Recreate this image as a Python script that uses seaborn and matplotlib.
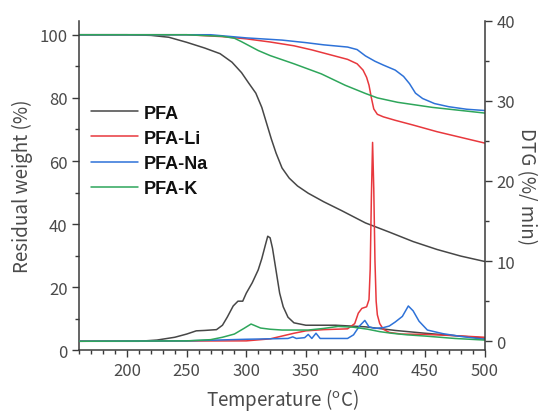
import matplotlib
matplotlib.use("Agg")
import matplotlib.pyplot as plt
from matplotlib.ticker import MultipleLocator
import numpy as np
import pandas as pd
import seaborn as sns

sns.set_style("ticks")
plt.rcParams["font.family"] = ["Noto Sans CJK JP", "DejaVu Sans"]
plt.rcParams["mathtext.fontset"] = "custom"
plt.rcParams["mathtext.rm"] = "Noto Sans CJK JP"

# ---- TG curves (left axis, residual weight %) ----
pfa_tg_t = [160, 200, 220, 235, 250, 265, 278, 288, 296, 302, 308, 313, 317, 321, 325,
            330, 336, 343, 352, 365, 380, 400, 420, 440, 460, 480, 500]
pfa_tg = [100, 100, 99.8, 99.2, 97.6, 95.8, 94.0, 91.3, 88.0, 84.7, 81.5, 77.0, 72.0, 67.0,
          62.5, 57.8, 54.6, 52.1, 49.8, 47.1, 44.3, 40.4, 37.5, 34.5, 32.0, 29.9, 28.2]

li_tg_t = [160, 250, 280, 300, 320, 340, 355, 370, 385, 393, 398, 401, 403, 405, 407,
           410, 415, 425, 440, 460, 480, 500]
li_tg = [100, 100, 99.4, 98.7, 97.7, 96.5, 95.2, 93.7, 92.2, 90.8, 88.8, 86.5, 84.0, 80.0,
         76.5, 74.8, 74.0, 72.9, 71.4, 69.3, 67.5, 65.7]

na_tg_t = [160, 270, 300, 330, 350, 365, 385, 393, 400, 408, 415, 425, 432, 437, 442,
           448, 458, 470, 485, 500]
na_tg = [100, 100, 99.0, 98.3, 97.5, 96.8, 96.1, 95.3, 93.3, 91.6, 90.4, 88.8, 86.8, 84.5,
         81.5, 79.8, 78.2, 77.2, 76.4, 76.0]

k_tg_t = [160, 250, 280, 290, 296, 302, 310, 320, 340, 363, 383, 400, 410, 427, 456, 500]
k_tg = [100, 100, 99.5, 98.9, 97.8, 96.6, 95.0, 93.4, 90.8, 87.6, 84.0, 81.4, 80.0, 78.6,
        77.0, 75.2]

# ---- DTG curves (right axis, %/min) ----
pfa_dtg_t = [160, 210, 225, 240, 250, 258, 265, 275, 280, 284, 289, 293, 297, 300, 305,
             310, 313, 316, 318, 320, 322, 325, 328, 331, 335, 340, 350, 375, 400, 425,
             450, 475, 500]
pfa_dtg = [0, 0, 0.15, 0.5, 0.9, 1.3, 1.35, 1.45, 2.0, 3.0, 4.4, 5.0, 5.0, 6.0, 7.3, 8.9,
           10.3, 12.0, 13.1, 12.9, 11.6, 8.8, 6.0, 4.3, 3.0, 2.3, 2.0, 2.0, 1.8, 1.35, 1.0,
           0.7, 0.4]

li_dtg_t = [160, 300, 320, 330, 340, 350, 365, 385, 391, 394, 397, 401, 403, 404, 405, 406,
            407, 408, 409, 410, 412, 415, 420, 430, 450, 475, 500]
li_dtg = [0, 0.05, 0.3, 0.65, 1.0, 1.3, 1.45, 1.55, 2.2, 3.5, 4.1, 4.3, 5.2, 9.0, 18.0,
          24.8, 19.0, 10.0, 5.0, 3.3, 2.2, 1.5, 1.1, 0.9, 0.85, 0.7, 0.5]

na_dtg_t = [160, 250, 300, 335, 339, 342, 349, 352, 355, 358.5, 362, 385, 390, 395, 399.5,
            403, 408, 415, 420, 425, 431, 436, 440, 445, 452, 465, 480, 500]
na_dtg = [0, 0.05, 0.25, 0.35, 0.55, 0.35, 0.45, 0.85, 0.35, 1.0, 0.35, 0.35, 0.8, 1.9,
          2.6, 1.8, 1.6, 1.7, 1.9, 2.4, 3.1, 4.4, 3.8, 2.5, 1.4, 0.95, 0.6, 0.25]

k_dtg_t = [160, 250, 270, 280, 290, 298, 304, 312, 320, 330, 352, 365, 377, 390, 402, 412,
           422, 435, 450, 475, 500]
k_dtg = [0, 0.05, 0.2, 0.5, 0.9, 1.6, 2.15, 1.65, 1.5, 1.4, 1.4, 1.6, 1.85, 1.75, 1.5, 1.2,
         1.0, 0.8, 0.65, 0.35, 0.15]

names = ["PFA", "PFA-Li", "PFA-Na", "PFA-K"]
colors = ["#474747", "#e8383d", "#2e72d8", "#2ea65b"]

tg_sets = [(pfa_tg_t, pfa_tg), (li_tg_t, li_tg), (na_tg_t, na_tg), (k_tg_t, k_tg)]
dtg_sets = [(pfa_dtg_t, pfa_dtg), (li_dtg_t, li_dtg), (na_dtg_t, na_dtg), (k_dtg_t, k_dtg)]

fig = plt.figure(figsize=(5.43, 4.14), dpi=100)
ax = fig.add_axes([0.1464, 0.151, 0.746, 0.797])
ax2 = ax.twinx()

for name, c, (t, v) in zip(names, colors, tg_sets):
    sns.lineplot(x=t, y=v, ax=ax, color=c, lw=1.1, label=name, sort=False)
for name, c, (t, v) in zip(names, colors, dtg_sets):
    sns.lineplot(x=t, y=v, ax=ax2, color=c, lw=1.1, legend=False, sort=False)

ax.set_xlim(160, 500)
ax.set_ylim(0, 104.5)
ax2.set_ylim(-1.15, 40)

ax.xaxis.set_major_locator(MultipleLocator(50))
ax.xaxis.set_minor_locator(MultipleLocator(10))
ax.yaxis.set_major_locator(MultipleLocator(20))
ax.yaxis.set_minor_locator(MultipleLocator(10))
ax2.yaxis.set_major_locator(MultipleLocator(10))
ax2.yaxis.set_minor_locator(MultipleLocator(5))
ax.set_xticks(np.arange(200, 501, 50))

spine_c = "#3a3a3a"
txt_c = "#4a4a4a"
for a in (ax, ax2):
    a.spines["top"].set_visible(False)
    for s in a.spines.values():
        s.set_color(spine_c)
        s.set_linewidth(1.1)
    a.tick_params(which="major", length=5, width=1.0, color=spine_c,
                  labelsize=12, labelcolor=txt_c)
    a.tick_params(which="minor", length=3, width=1.0, color=spine_c)
ax.spines["right"].set_visible(False)
ax2.spines["left"].set_visible(False)
ax2.spines["bottom"].set_visible(False)

ax.set_xlabel("Temperature ($^{\\rm o}$C)", fontsize=13.5, color=txt_c, labelpad=5)
ax.set_ylabel("Residual weight (%)", fontsize=13.5, color=txt_c, labelpad=5)
ax2.set_ylabel("DTG (%/ min)", fontsize=13.5, color=txt_c, rotation=270, labelpad=16)

leg = ax.legend(loc="upper left", bbox_to_anchor=(0.1676, 0.745),
                bbox_transform=fig.transFigure, frameon=False, borderpad=0,
                borderaxespad=0, handlelength=2.6, handletextpad=0.3,
                labelspacing=0.45,
                prop={"family": "Liberation Sans", "weight": "bold", "size": 13})
for t in leg.get_texts():
    t.set_color("#111111")

fig.savefig("out.png", dpi=100)
